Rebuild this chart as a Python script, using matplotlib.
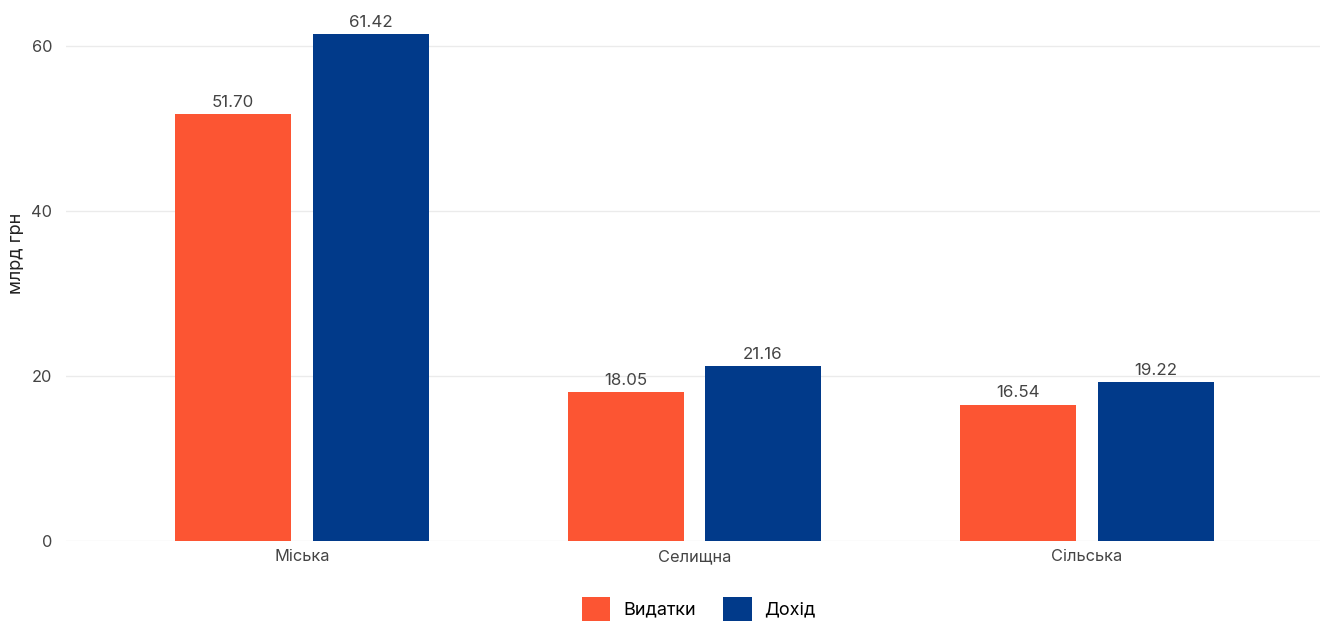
import matplotlib
matplotlib.use("Agg")
import matplotlib.pyplot as plt
import numpy as np
from matplotlib.patches import Patch

categories = ["Міська", "Селищна", "Сільська"]
spending = [51.70, 18.05, 16.54]
income = [61.42, 21.16, 19.22]
series_names = ["Видатки", "Дохід"]
colors = ["#FC5533", "#013A8A"]
yticks = [0, 20, 40, 60]

plt.rcParams['font.family'] = ['Inter', 'DejaVu Sans']

W, H = 1332, 621
fig = plt.figure(figsize=(W/100, H/100), dpi=100)
left, right = 66, 1320
bottom_px, top_px = 541, 15
ax = fig.add_axes([left/W, 1 - bottom_px/H, (right-left)/W, (bottom_px-top_px)/H])

x = np.arange(len(categories))
bw = 0.2955
off = 0.175
b1 = ax.bar(x - off, spending, bw, color=colors[0], zorder=3)
b2 = ax.bar(x + off, income, bw, color=colors[1], zorder=3)

for bars, vals in ((b1, spending), (b2, income)):
    for r, v in zip(bars, vals):
        ax.text(r.get_x() + r.get_width()/2, v + 0.5, f"{v:.2f}",
                ha='center', va='bottom', fontsize=12.2, color='#444444')

ax.set_xlim(-0.601, 2.594)
ax.set_ylim(0, (bottom_px - top_px) / (495/60))
ax.set_yticks(yticks)
ax.set_xticks(x)
ax.set_xticklabels(categories, fontsize=11.8, color='#444444')
ax.tick_params(axis='y', labelsize=11.8, colors='#444444', length=0, pad=10)
ax.tick_params(axis='x', length=0, pad=6)
ax.grid(axis='y', color='#EBEBEB', linewidth=1, zorder=0)
for s in ax.spines.values():
    s.set_visible(False)
ax.set_ylabel("млрд грн", fontsize=13, color='#222222')
ax.yaxis.set_label_coords(-(66-25)/(right-left), (bottom_px-253)/(bottom_px-top_px))

handles = [Patch(facecolor=c, edgecolor='none') for c in colors]
fig.legend(handles, series_names, loc='center', bbox_to_anchor=(0.5245, 1 - 609/H),
           ncol=2, frameon=False, fontsize=13, handlelength=1.6, handleheight=1.6,
           handletextpad=0.7, columnspacing=1.5)

fig.savefig("out.png", dpi=100, facecolor='white')
